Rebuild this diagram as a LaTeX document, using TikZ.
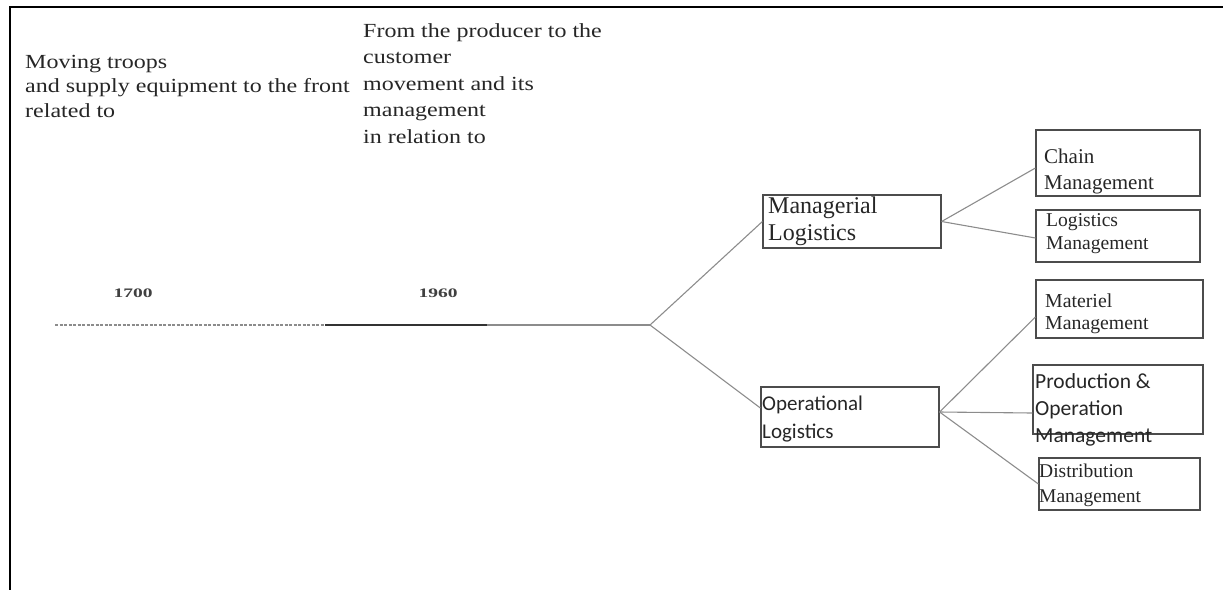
\documentclass[tikz,border=0pt]{standalone}
\usepackage{fontspec}
\setmainfont{Liberation Serif}
\newfontfamily\calib{Carlito}
\newfontfamily\widefont[FakeStretch=1.2]{Liberation Serif}
\newfontfamily\yearfont[FakeStretch=1.5]{Liberation Serif}
\usetikzlibrary{positioning}

\tikzset{
  bx/.style={draw=black!70, line width=1.2pt, inner sep=0pt},
  txt/.style={anchor=north west, align=left, inner sep=0pt, text=black!85},
  branch/.style={draw=black!45, line width=1.1pt},
  yr/.style={font=\yearfont\bfseries\fontsize{13}{15}\selectfont, text=black!75}
}

\begin{document}
\begin{tikzpicture}[x=1pt,y=-1pt]
  \useasboundingbox (0,0) rectangle (1223,590);
  % frame
  \draw[line width=2pt] (1223,7) -- (10,7) -- (10,590);

  % top texts
  \node[txt, font=\widefont\fontsize{20}{24.5}\selectfont] (army) at (25,55)
    {Moving troops\\and supply equipment to the front\\related to};
  \node[txt, font=\widefont\fontsize{20}{26.5}\selectfont] (trade) at (363,23)
    {From the producer to the\\customer\\movement and its\\management\\in relation to};

  % time line
  \node[yr] (y1700) at (133,293) {1700};
  \node[yr] (y1960) at (438,293) {1960};
  \coordinate (t0) at (55,325);
  \coordinate (t1) at (325,325);
  \coordinate (t2) at (487,325);
  \coordinate (split) at (650,325);
  \draw[black!45, line width=1.2pt, dash pattern=on 3pt off 1.5pt] (t0) -- (t1);
  \draw[black!80, line width=1.3pt] (t1) -- (t2);
  \draw[branch] (t2) -- (split);

  % main branches
  \node[bx, minimum width=178, minimum height=53] (manag) at (852,221.5) {};
  \node[bx, minimum width=178, minimum height=60] (oper) at (850,417) {};
  \node[txt, font=\fontsize{24}{27}\selectfont] at (768,196.5) {Managerial\\Logistics};
  \node[txt, font=\calib\fontsize{21}{28}\selectfont] at (762,396) {Operational\\Logistics};

  % leaves
  \node[bx, minimum width=164, minimum height=66] (chain) at (1118,163) {};
  \node[bx, minimum width=164, minimum height=52] (logm) at (1118,236) {};
  \node[bx, minimum width=167, minimum height=58] (mater) at (1119.5,309) {};
  \node[bx, minimum width=170, minimum height=69] (prod) at (1118,399.5) {};
  \node[bx, minimum width=161, minimum height=52] (distr) at (1119.5,484) {};
  \node[txt, font=\fontsize{21}{26}\selectfont] at (1044,148.5) {Chain\\Management};
  \node[txt, font=\fontsize{19.6}{23}\selectfont] at (1046,213.5) {Logistics\\Management};
  \node[txt, font=\fontsize{19.8}{22}\selectfont] at (1045,293.5) {Materiel\\Management};
  \node[txt, font=\calib\fontsize{21.5}{27}\selectfont] at (1035,373) {Production \&\\Operation\\Management};
  \node[txt, font=\fontsize{19.5}{25}\selectfont] at (1039,463.5) {Distribution\\Management};

  % connectors
  \draw[branch] (split) -- (manag.west);
  \draw[branch] (split) -- ([yshift=9pt]oper.west);
  \draw[branch] (manag.east) -- ([yshift=-5pt]chain.west);
  \draw[branch] (manag.east) -- ([yshift=-2pt]logm.west);
  \draw[branch] ([yshift=5pt]oper.east) -- ([yshift=-8pt]mater.west);
  \draw[branch] ([yshift=5pt]oper.east) -- ([yshift=-13.5pt]prod.west);
  \draw[branch] ([yshift=5pt]oper.east) -- (distr.west);
\end{tikzpicture}
\end{document}
